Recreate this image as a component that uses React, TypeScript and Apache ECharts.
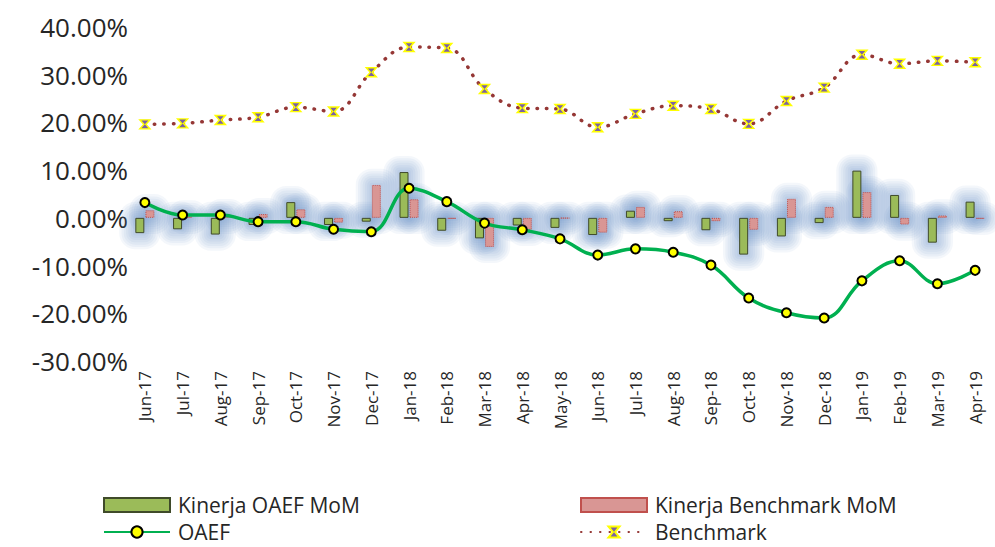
import React, { useEffect, useRef } from "react";
import * as echarts from "echarts";

const categories = [
  "Jun-17", "Jul-17", "Aug-17", "Sep-17", "Oct-17", "Nov-17", "Dec-17",
  "Jan-18", "Feb-18", "Mar-18", "Apr-18", "May-18", "Jun-18", "Jul-18",
  "Aug-18", "Sep-18", "Oct-18", "Nov-18", "Dec-18", "Jan-19", "Feb-19",
  "Mar-19", "Apr-19",
];

const oaefMoM = [-3.2, -2.4, -3.5, -1.5, 3.3, -1.5, -0.8, 9.6, -2.7, -4.3, -1.6, -2.1, -3.6, 1.5, -0.7, -2.6, -7.7, -3.9, -1.1, 9.9, 4.8, -5.2, 3.4];
const benchmarkMoM = [1.6, 0.3, 0.6, 0.8, 1.8, -1.0, 6.9, 3.9, -0.2, -6.1, -2.5, -0.1, -3.1, 2.3, 1.4, -0.7, -2.5, 4.0, 2.3, 5.4, -1.4, 0.5, -0.2];
const oaef = [3.2, 0.6, 0.6, -0.8, -0.8, -2.4, -2.9, 6.2, 3.4, -1.1, -2.5, -4.4, -7.8, -6.5, -7.2, -9.9, -16.8, -19.9, -21.0, -13.2, -9.0, -13.8, -11.0];
const benchmark = [19.6, 19.8, 20.5, 21.1, 23.2, 22.3, 30.5, 35.8, 35.6, 27.0, 23.0, 22.8, 19.0, 21.8, 23.5, 22.8, 19.7, 24.5, 27.3, 34.2, 32.3, 32.9, 32.6];

const yMin = -30;
const yMax = 40;
const yStep = 10;

const FONT = "Open Sans";
const hourglass = "path://M0,0 L10,0 L6,5 L10,10 L0,10 L4,5 Z";
const BAR_W = 9;
const BAR_GAP = 1.08;

export default function App() {
  const ref = useRef<HTMLDivElement>(null);
  useEffect(() => {
    if (!ref.current) return;
    const chart = echarts.init(ref.current, null, { renderer: "svg" });
    const legendText = {
      fontFamily: FONT,
      fontSize: 21,
      lineHeight: 22,
      color: "#262626",
      padding: [0, 0, 0, 3],
    };
    const mkLegend = (name: string, left: number, top: number, icon?: string) => ({
      data: icon ? [{ name, icon }] : [name],
      left,
      top,
      padding: 0,
      itemWidth: 66,
      itemHeight: 14,
      itemGap: 8,
      textStyle: legendText,
      selectedMode: false,
    });

    const glowData = categories.map((_, i) => [i, oaefMoM[i], benchmarkMoM[i]]);
    const renderGlow = (params: any, api: any) => {
      const i = api.value(0);
      const base = api.coord([i, 0]);
      const cx = base[0];
      const children: any[] = [];
      const addGlow = (x0: number, v: number) => {
        const p = api.coord([i, v]);
        const yTop = Math.min(base[1], p[1]);
        const yBot = Math.max(base[1], p[1]);
        for (let k = 1; k <= 7; k++) {
          const e = 2.3 * k;
          children.push({
            type: "rect",
            shape: {
              x: x0 - e,
              y: yTop - e,
              width: BAR_W + 2 * e,
              height: yBot - yTop + 2 * e,
              r: e,
            },
            style: { fill: "rgba(79,129,189,0.062)" },
            silent: true,
          });
        }
      };
      addGlow(cx - BAR_GAP / 2 - BAR_W, api.value(1));
      addGlow(cx + BAR_GAP / 2, api.value(2));
      return { type: "group", children };
    };

    chart.setOption({
      animation: false,
      backgroundColor: "#ffffff",
      grid: { left: 126, right: 1, top: 27, bottom: 186, containLabel: false },
      legend: [
        mkLegend("Kinerja OAEF MoM", 103, 494, "rect"),
        mkLegend("Kinerja Benchmark MoM", 580, 494, "rect"),
        mkLegend("OAEF", 103, 521),
        mkLegend("Benchmark", 580, 521),
      ],
      xAxis: {
        type: "category",
        data: categories,
        axisLine: { show: false },
        axisTick: { show: false },
        axisLabel: {
          rotate: 90,
          interval: 0,
          margin: 10,
          fontFamily: FONT,
          fontSize: 17,
          color: "#262626",
        },
      },
      yAxis: {
        type: "value",
        min: yMin,
        max: yMax,
        interval: yStep,
        axisLine: { show: false },
        axisTick: { show: false },
        splitLine: { show: false },
        axisLabel: {
          formatter: (v: number) => v.toFixed(2) + "%",
          fontFamily: FONT,
          fontSize: 26,
          color: "#262626",
          margin: -2,
        },
      },
      series: [
        {
          name: "glow",
          type: "custom",
          data: glowData,
          renderItem: renderGlow,
          encode: { x: 0, y: [1, 2] },
          silent: true,
          z: 1,
          tooltip: { show: false },
        },
        {
          name: "Kinerja OAEF MoM",
          type: "bar",
          data: oaefMoM,
          barWidth: BAR_W,
          barGap: "12%",
          itemStyle: {
            color: "#9BBB59",
            borderColor: "#3F4A2A",
            borderWidth: 1,
          },
          z: 2,
        },
        {
          name: "Kinerja Benchmark MoM",
          type: "bar",
          data: benchmarkMoM,
          barWidth: BAR_W,
          itemStyle: {
            color: "#D99694",
            borderColor: "#C0504D",
            borderWidth: 1,
            borderType: "dotted",
          },
          z: 2,
        },
        {
          name: "OAEF",
          type: "line",
          data: oaef,
          smooth: 0.4,
          symbol: "circle",
          symbolSize: 9,
          lineStyle: { color: "#00B050", width: 3.5 },
          itemStyle: { color: "#FFFF00", borderColor: "#000000", borderWidth: 2 },
          z: 5,
        },
        {
          name: "Benchmark",
          type: "line",
          data: benchmark,
          smooth: 0.4,
          symbol: hourglass,
          symbolSize: [10, 9],
          lineStyle: { color: "#953735", width: 3.5, type: [0.5, 9], cap: "round" },
          itemStyle: { color: "#7B62A3", borderColor: "#FFFF00", borderWidth: 1.5 },
          z: 5,
        },
      ],
    });
    return () => chart.dispose();
  }, []);
  return (
    <div
      ref={ref}
      style={{ position: "fixed", left: 0, top: 0, width: 995, height: 547 }}
    />
  );
}
